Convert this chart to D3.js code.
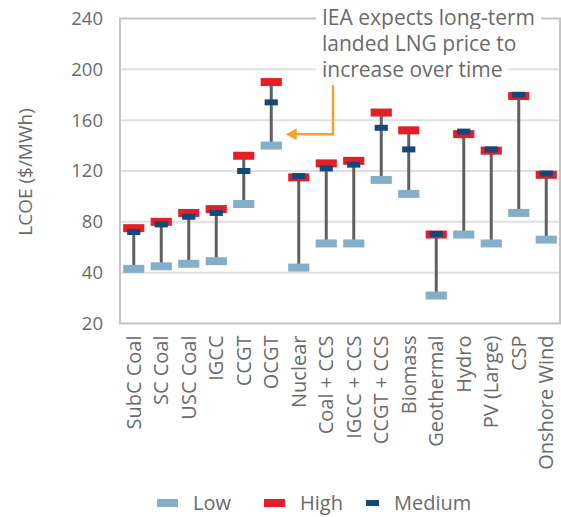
<!DOCTYPE html>
<html>
<head>
<meta charset="utf-8">
<script src="https://cdn.jsdelivr.net/npm/d3@7"></script>
<style>
  body { margin: 0; background: #fff; }
  text { font-family: "Open Sans", Lato, sans-serif; font-weight: 400; fill: #6a6a6a; }
</style>
</head>
<body>
<div id="chart"></div>
<script>
// technologies along the x axis
var categories = ["SubC Coal", "SC Coal", "USC Coal", "IGCC", "CCGT", "OCGT", "Nuclear",
  "Coal + CCS", "IGCC + CCS", "CCGT + CCS", "Biomass", "Geothermal", "Hydro",
  "PV (Large)", "CSP", "Onshore Wind"];

// LCOE values, $/MWh
var lowVals  = [43, 45, 47, 49, 94, 140, 44, 63, 63, 113, 102, 31, 70, 63, 87, 66];
var highVals = [75, 80, 87, 90, 132, 190, 115, 126, 128, 166, 152, 70, 149, 136, 179, 117];
var midVals  = [72, 78, 84, 87, 120, 174, 116, 122, 125, 154, 137, 70.5, 151, 137, 180, 118];

var yTicks = [20, 40, 80, 120, 160, 200, 240];
var legendItems = ["Low", "High", "Medium"];
var noteLines = ["IEA expects long-term", "landed LNG price to", "increase over time"];

var cfg = {
  w: 561, h: 517,
  left: 120, right: 560, top: 18.5, bottom: 323.5,
  low: "#85afc9", high: "#e21f26", mid: "#12497a",
  whisker: "#606060", grid: "#e0e0e0", axis: "#c4c4c4", note: "#f4a22d",
  font: "'Open Sans', Lato, sans-serif", text: "#6a6a6a"
};

var svg = d3.select("#chart").append("svg")
  .attr("width", cfg.w)
  .attr("height", cfg.h);

var data = categories.map(function(c, i) {
  return { cat: c, low: lowVals[i], high: highVals[i], mid: midVals[i] };
});

var x = d3.scaleBand()
  .domain(categories)
  .range([cfg.left, cfg.right]);

// gridlines are evenly spaced, the bottom step is 20 wide, the others 40
var y = d3.scaleLinear()
  .domain([20, 40, 240])
  .range([cfg.bottom, cfg.bottom - (cfg.bottom - cfg.top) / 6, cfg.top]);

// gridlines
svg.append("g")
  .selectAll("line")
  .data(yTicks.filter(function(t) { return t > 20 && t < 240; }))
  .join("line")
  .attr("x1", cfg.left).attr("x2", cfg.right)
  .attr("y1", function(d) { return y(d); })
  .attr("y2", function(d) { return y(d); })
  .attr("stroke", cfg.grid)
  .attr("stroke-width", 2);

// plot frame
svg.append("rect")
  .attr("x", cfg.left).attr("y", cfg.top)
  .attr("width", cfg.right - cfg.left)
  .attr("height", cfg.bottom - cfg.top)
  .attr("fill", "none")
  .attr("stroke", cfg.axis)
  .attr("stroke-width", 2);

// y axis labels
var yAxis = svg.append("g")
  .attr("transform", "translate(" + cfg.left + ",0)")
  .call(d3.axisLeft(y).tickValues(yTicks).tickSize(0).tickPadding(17));
yAxis.select(".domain").remove();
yAxis.selectAll("text")
  .style("font-family", cfg.font)
  .style("font-size", "18.5px")
  .attr("fill", cfg.text);

svg.append("text")
  .attr("transform", "translate(32,172) rotate(-90)")
  .attr("text-anchor", "middle")
  .style("font-size", "19px")
  .text("LCOE ($/MWh)");

// x axis labels
var xAxis = svg.append("g")
  .attr("transform", "translate(0," + cfg.bottom + ")")
  .call(d3.axisBottom(x).tickSize(0).tickPadding(0));
xAxis.select(".domain").remove();
xAxis.selectAll("text")
  .style("font-family", cfg.font)
  .style("font-size", "20px")
  .attr("fill", cfg.text)
  .attr("text-anchor", "end")
  .attr("transform", "rotate(-90)")
  .attr("x", -12)
  .attr("y", 0)
  .attr("dy", "0.35em");

var bw = x.bandwidth();
var boxW = bw * 0.77;
var midW = bw * 0.48;

var marks = svg.append("g")
  .selectAll("g")
  .data(data)
  .join("g")
  .attr("transform", function(d) { return "translate(" + (x(d.cat) + bw / 2) + ",0)"; });

marks.append("line")
  .attr("y1", function(d) { return y(d.low); })
  .attr("y2", function(d) { return y(d.high); })
  .attr("stroke", cfg.whisker)
  .attr("stroke-width", 3);

marks.append("rect")
  .attr("x", -boxW / 2).attr("width", boxW)
  .attr("y", function(d) { return y(d.low) - 4; })
  .attr("height", 8)
  .attr("fill", cfg.low);

marks.append("rect")
  .attr("x", -boxW / 2).attr("width", boxW)
  .attr("y", function(d) { return y(d.high) - 4; })
  .attr("height", 8)
  .attr("fill", cfg.high);

marks.append("rect")
  .attr("x", -midW / 2).attr("width", midW)
  .attr("y", function(d) { return y(d.mid) - 3; })
  .attr("height", 6)
  .attr("fill", cfg.mid);

// annotation text with white backing so the gridlines break around it
var note = svg.append("g");
noteLines.forEach(function(t, i) {
  var g = note.append("g");
  var txt = g.append("text")
    .attr("x", 322)
    .attr("y", 25 + i * 26)
    .style("font-size", "21px")
    .text(t);
  var bb = txt.node().getBBox();
  g.insert("rect", "text")
    .attr("x", bb.x - 6).attr("y", bb.y)
    .attr("width", bb.width + 12).attr("height", bb.height)
    .attr("fill", "#fff");
});

// arrow pointing at the OCGT low end
var tipX = x("OCGT") + bw / 2 + 14.5;
var tipY = y(149);
svg.append("path")
  .attr("d", "M333,85V" + tipY + "H" + (tipX + 8))
  .attr("fill", "none")
  .attr("stroke", cfg.note)
  .attr("stroke-width", 2.5);
svg.append("path")
  .attr("d", "M" + tipX + "," + tipY + "l11,-6v12z")
  .attr("fill", cfg.note);

// legend
var legend = svg.append("g").attr("transform", "translate(0,503)");
var legX = [157, 264, 366];
legendItems.forEach(function(name, i) {
  var isMid = name === "Medium";
  legend.append("rect")
    .attr("x", legX[i])
    .attr("y", isMid ? -3 : -4)
    .attr("width", isMid ? 13 : 21)
    .attr("height", isMid ? 6 : 8)
    .attr("fill", name === "Low" ? cfg.low : name === "High" ? cfg.high : cfg.mid);
  legend.append("text")
    .attr("x", legX[i] + (isMid ? 28 : 36))
    .attr("y", 0)
    .attr("dy", "0.35em")
    .style("font-size", "20px")
    .text(name);
});
</script>
</body>
</html>
